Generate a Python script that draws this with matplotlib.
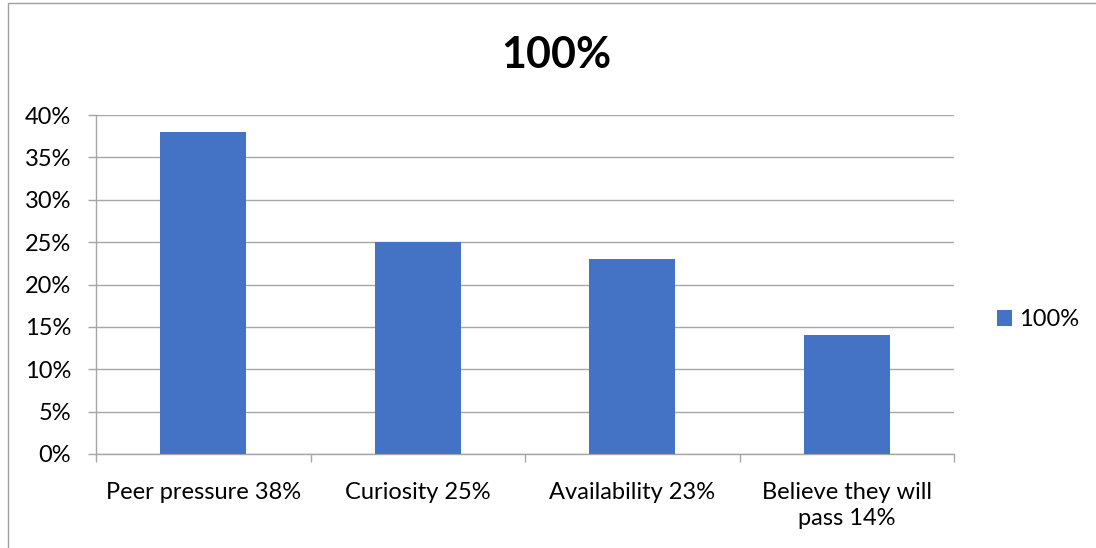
import matplotlib
matplotlib.use("Agg")
import matplotlib.pyplot as plt
from matplotlib.patches import Rectangle
from matplotlib.ticker import FixedLocator, NullFormatter

categories = ["Peer pressure 38%", "Curiosity 25%", "Availability 23%", "Believe they will\npass 14%"]
values = [0.38, 0.25, 0.23, 0.14]
yticks = [0.0, 0.05, 0.10, 0.15, 0.20, 0.25, 0.30, 0.35, 0.40]
ytick_labels = ["0%", "5%", "10%", "15%", "20%", "25%", "30%", "35%", "40%"]
series_name = "100%"
title = "100%"

plt.rcParams['font.family'] = ['Lato', 'DejaVu Sans']

W, H = 1096, 548
fig = plt.figure(figsize=(W / 100, H / 100), dpi=100)

# chart border (left/top visible)
fig.patches.append(Rectangle((8 / W, -0.1), 1.2, 1 - 3 / H + 0.1, transform=fig.transFigure,
                             fill=False, edgecolor="#a0a0a0", linewidth=1.0))

ax = fig.add_axes([96 / W, 1 - 454 / H, (954 - 96) / W, (454 - 115) / H])
grid_c = "#a6a6a6"
x = list(range(len(categories)))
ax.bar(x, values, width=0.4, color="#4472C4", label=series_name, zorder=3)
ax.set_xlim(-0.5, len(categories) - 0.5)
ax.set_ylim(0, 0.40)
ax.set_yticks(yticks)
ax.set_yticklabels(ytick_labels, fontsize=17)
ax.yaxis.grid(True, color=grid_c, linewidth=1.0, zorder=0)
ax.set_xticks(x)
ax.set_xticklabels(categories, fontsize=17, linespacing=1.3)
ax.tick_params(axis='x', length=0, pad=20)
ax.xaxis.set_minor_locator(FixedLocator([i - 0.5 for i in range(len(categories) + 1)]))
ax.xaxis.set_minor_formatter(NullFormatter())
ax.tick_params(axis='x', which='minor', length=6, color=grid_c, width=1.0)
ax.tick_params(axis='y', length=6, color=grid_c, width=1.0, pad=12)
for s in ["top", "right"]:
    ax.spines[s].set_visible(False)
for s in ["left", "bottom"]:
    ax.spines[s].set_color(grid_c)
    ax.spines[s].set_linewidth(1.0)

fig.text(556 / W, 1 - 55 / H, title, fontsize=31, fontweight="bold", ha="center", va="center")

fig.legend(loc="center left", bbox_to_anchor=(985 / W, 1 - 320 / H), frameon=False,
           fontsize=17, handlelength=0.65, handleheight=0.65, handletextpad=0.3, borderpad=0)

fig.savefig("out.png", dpi=100)
